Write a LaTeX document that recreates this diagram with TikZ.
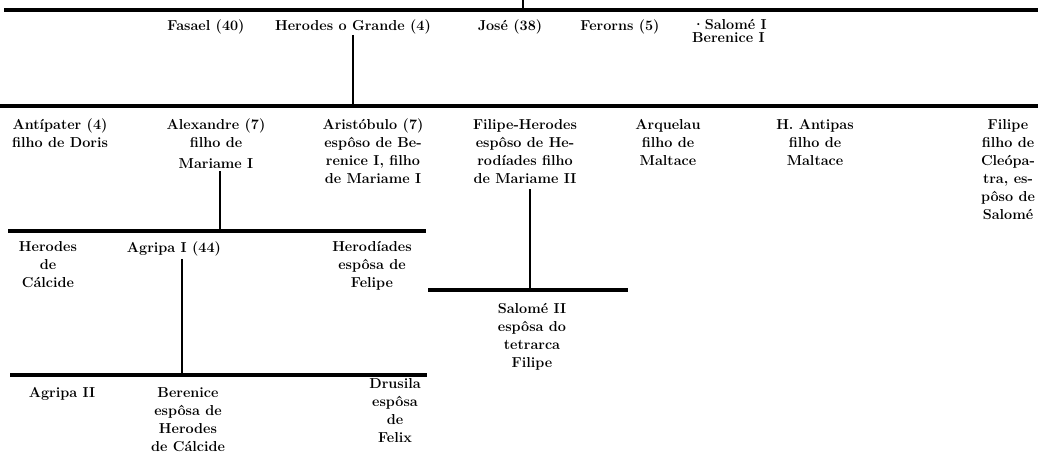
\documentclass[tikz,border=0pt]{standalone}
\usetikzlibrary{positioning}

\begin{document}
\begin{tikzpicture}[x=1pt, y=-1pt,
  person/.style={font=\bfseries\fontsize{14.4}{18}\selectfont, align=center, inner sep=0pt, anchor=north},
  bar/.style={line width=3.2pt},
  stem/.style={line width=1.2pt}]
  \useasboundingbox (0,0) rectangle (1038,457);

  % horizontal bars of the generations
  \coordinate (b1l) at (4,10);   \coordinate (b1r) at (1038,10);
  \coordinate (b2l) at (0,106);  \coordinate (b2r) at (1038,106);
  \coordinate (b3l) at (8,231);  \coordinate (b3r) at (426,231);
  \coordinate (b5l) at (428,290); \coordinate (b5r) at (628,290);
  \coordinate (b4l) at (10,375); \coordinate (b4r) at (427,375);
  \draw[bar] (b1l) -- (b1r);
  \draw[bar] (b2l) -- (b2r);
  \draw[bar] (b3l) -- (b3r);
  \draw[bar] (b5l) -- (b5r);
  \draw[bar] (b4l) -- (b4r);

  % first generation
  \node[person] (fasael) at (206,20) {Fasael (40)};
  \node[person] (herodes) at (353,20) {Herodes o Grande (4)};
  \node[person] (jose) at (510,20) {José (38)};
  \node[person] (ferorns) at (620,20) {Ferorns (5)};
  \node[person, anchor=north west, align=left, font=\bfseries\fontsize{14.4}{13}\selectfont] (salome1) at (692,19) {·Salomé I\\Berenice I};

  % sons of Herodes
  \node[person] (antipater) at (60,119) {Antípater (4)\\filho de Doris};
  \node[person] (alexandre) at (216,119) {Alexandre (7)\\filho de\\[3pt]Mariame I};
  \node[person] (aristobulo) at (373,119) {Aristóbulo (7)\\espôso de Be-\\renice I, filho\\de Mariame I};
  \node[person] (filipeher) at (525,119) {Filipe-Herodes\\espôso de He-\\rodíades filho\\de Mariame II};
  \node[person] (arquelau) at (668,119) {Arquelau\\filho de\\Maltace};
  \node[person] (antipas) at (815,119) {H. Antipas\\filho de\\Maltace};
  \node[person] (filipe) at (1008,119) {Filipe\\filho de\\Cleópa-\\tra, es-\\pôso de\\Salomé};

  % grandchildren
  \node[person] (hcalcide) at (48,241) {Herodes\\de\\Cálcide};
  \node[person] (agripa1) at (174,241) {Agripa I (44)};
  \node[person] (herodiades) at (372,241) {Herodíades\\espôsa de\\Felipe};
  \node[person] (salome2) at (532,303) {Salomé II\\espôsa do\\tetrarca\\Filipe};

  % children of Agripa I
  \node[person] (agripa2) at (62,387) {Agripa II};
  \node[person] (berenice) at (188,387) {Berenice\\espôsa de\\Herodes\\de Cálcide};
  \node[person] (drusila) at (395,378) {Drusila\\espôsa\\de\\Felix};

  % descent lines
  \coordinate (up) at (523,0);
  \draw[stem] (up) -- (up |- b1l);
  \draw[stem] (herodes.south) -- (herodes.south |- b2l);
  \coordinate (alexstem) at ([xshift=4pt]alexandre.south);
  \draw[stem, shorten <=2pt] (alexstem) -- (alexstem |- b3l);
  \coordinate (filstem) at ([xshift=5pt]filipeher.south);
  \draw[stem, shorten <=6pt] (filstem) -- (filstem |- b5l);
  \coordinate (agrstem) at ([xshift=8pt]agripa1.south);
  \draw[stem, shorten <=3pt] (agrstem) -- (agrstem |- b4l);
\end{tikzpicture}
\end{document}
